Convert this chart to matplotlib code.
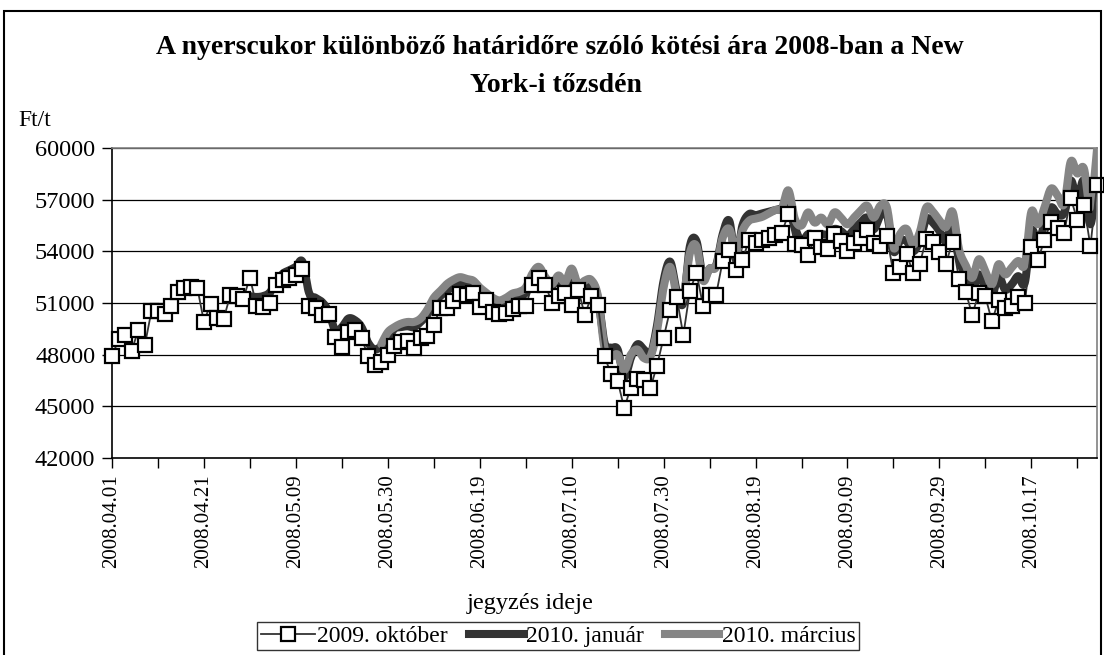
import numpy as np
import matplotlib
matplotlib.use("Agg")
import matplotlib.pyplot as plt
from matplotlib.lines import Line2D
from matplotlib.patches import Rectangle

plt.rcParams['font.family'] = ['Liberation Serif', 'DejaVu Serif']

tick_labels = ["2008.04.01", "2008.04.21", "2008.05.09", "2008.05.30", "2008.06.19",
               "2008.07.10", "2008.07.30", "2008.08.19", "2008.09.09", "2008.09.29",
               "2008.10.17"]

okt2009 = [47900, 48890, 49140, 48220, 49440, 48550, 50520, 50560, 50360, 50810,
           51640, 51870, 51910, 51870, 49910, 50950, 50120, 50070, 51440, 51400,
           51250, 52480, 50850, 50790, 51010, 52030, 52330, 52430, 52620, 52960,
           50850, 50690, 50300, 50360, 49040, 48450, 49320, 49440, 48980, 47900,
           47410, 47550, 48000, 48530, 48730, 48790, 48390, 48980, 49080, 49710,
           50710, 50710, 51090, 51540, 51440, 51580, 50790, 51150, 50500, 50360,
           50420, 50660, 50850, 50810, 52070, 52460, 52070, 50990, 51400, 51580,
           50910, 51780, 50300, 51400, 50910, 47900, 46880, 46490, 44890, 46090,
           46560, 46520, 46070, 47370, 48980, 50620, 51340, 49120, 51700, 52760,
           50850, 51440, 51480, 53450, 54100, 52920, 53510, 54630, 54490, 54650,
           54790, 54920, 55080, 56160, 54430, 54390, 53800, 54790, 54240, 54160,
           54980, 54590, 54040, 54490, 54790, 55220, 54490, 54290, 54880, 52720,
           53080, 53840, 52760, 53250, 54730, 54560, 53980, 53290, 54550, 52370,
           51640, 50320, 51580, 51380, 49930, 51150, 50710, 50850, 51340, 50990,
           54240, 53510, 54650, 55730, 55340, 55080, 57090, 55830, 56710, 54290,
           57830]

jan2010 = [None] * 20 + [
           51500, 51400, 51350, 51400, 51600, 52200, 52700, 52900, 53100, 53400,
           51600, 51300, 51050, 50500, 49400, 49600, 50100, 50000, 49600, 48700,
           48300, 48500, 48900, 49500, 49600, 49650, 49600, 49900, 50300, 51000,
           51400, 51700, 52000, 52200, 52100, 52050, 51700, 51400, 51000, 50900,
           51100, 51300, 51350, 51600, 52400, 52800, 52300, 52000, 52400, 52000,
           52800, 51900, 51700, 52200, 51300, 48700, 48400, 48300, 46700, 47800,
           48600, 48300, 48000, 49700, 52300, 53400, 51700, 51000, 54300, 54600,
           52500, 53000, 53200, 55000, 55770, 53600, 55500, 56160, 56100, 56200,
           56300, 56400, 56500, 56700, 55380, 54600, 55000, 54980, 55000, 54980,
           55300, 55180, 54900, 55300, 55670, 55960, 55280, 56060, 56160, 54000,
           54590, 54590, 54000, 54590, 55870, 55670, 55180, 54590, 55670, 53550,
           52560, 51700, 52660, 51870, 51380, 52560, 51780, 52070, 52560, 52170,
           55180, 54490, 55570, 56550, 56160, 56260, 58100, 57000, 58100, 55570,
           58600]

mar2010 = [None] * 41 + [
           48600, 49300, 49600, 49800, 49900, 49900, 50100, 50600, 51300,
           51700, 52100, 52350, 52500, 52400, 52300, 51900, 51600, 51300, 51150,
           51300, 51550, 51650, 51900, 52700, 53100, 52500, 52100, 52600, 52200,
           53000, 52050, 52300, 52330, 51400, 48400, 47900, 48000, 47100, 48000,
           48300, 47800, 47900, 49400, 51900, 53100, 51500, 51300, 53900, 54300,
           52300, 53000, 53100, 54800, 55300, 54000, 55200, 55770, 55900, 56000,
           56200, 56400, 56500, 57540, 55870, 55500, 56260, 55670, 55960, 55570,
           56260, 55960, 55570, 55960, 56350, 56650, 55960, 56650, 56550, 54200,
           55000, 55300, 54400, 55100, 56550, 56300, 55800, 55400, 56300, 54100,
           53200, 52460, 53540, 52850, 52070, 53250, 52660, 53050, 53440, 53250,
           56300, 55570, 56550, 57640, 57240, 56750, 59210, 58520, 58820, 56550,
           59900]


def smooth(xs, ys, n=12):
    xs = np.asarray(xs, float)
    ys = np.asarray(ys, float)
    px, py = [], []
    m = len(xs)
    for k in range(m - 1):
        x0, y0 = (xs[k - 1], ys[k - 1]) if k > 0 else (xs[k], ys[k])
        x1, y1 = xs[k], ys[k]
        x2, y2 = xs[k + 1], ys[k + 1]
        x3, y3 = (xs[k + 2], ys[k + 2]) if k + 2 < m else (x2, y2)
        t = np.linspace(0, 1, n, endpoint=False)
        t2, t3 = t * t, t * t * t
        def cr(p0, p1, p2, p3):
            return 0.5 * ((2 * p1) + (-p0 + p2) * t + (2 * p0 - 5 * p1 + 4 * p2 - p3) * t2
                          + (-p0 + 3 * p1 - 3 * p2 + p3) * t3)
        px.extend(cr(x0, x1, x2, x3))
        py.extend(cr(y0, y1, y2, y3))
    px.append(xs[-1]); py.append(ys[-1])
    return np.array(px), np.array(py)


def valid(series):
    idx = [i for i, v in enumerate(series) if v is not None]
    return idx, [series[i] for i in idx]


fig = plt.figure(figsize=(11.04, 6.55), dpi=100)
ax = fig.add_axes([112 / 1104, 1 - 458 / 655, (1097 - 112) / 1104, (458 - 148) / 655])

for y in range(45000, 60001, 3000):
    ax.axhline(y, color='black', lw=0.9, zorder=1)

jx, jy = valid(jan2010)
sx, sy = smooth(jx, jy)
ax.plot(sx, sy, color='#333333', lw=5.8, solid_capstyle='round', zorder=2)

mx, my = valid(mar2010)
sx, sy = smooth(mx, my)
ax.plot(sx, sy, color='#858585', lw=5.8, solid_capstyle='round', zorder=3)

ox = np.arange(len(okt2009))
ax.plot(ox, okt2009, color='#333333', lw=1.3, marker='s', markersize=9.5,
        markerfacecolor='white', markeredgecolor='black', markeredgewidth=1.6, zorder=4,
        clip_on=False)

ax.set_xlim(0, len(okt2009) - 1)
ax.set_ylim(42000, 60000)
ax.set_yticks(range(42000, 60001, 3000))
ax.set_yticklabels([str(v) for v in range(42000, 60001, 3000)], fontsize=17.5)

xt = list(range(0, len(okt2009), 7))
ax.set_xticks(xt)
labels = []
for i, t in enumerate(xt):
    labels.append(tick_labels[i // 2] if i % 2 == 0 and i // 2 < len(tick_labels) else "")
ax.set_xticklabels(labels, rotation=90, fontsize=15)
ax.tick_params(axis='both', direction='out', length=7, width=1, colors='black')
ax.tick_params(axis='y', pad=5)
ax.tick_params(axis='x', pad=5)

for s in ['left', 'bottom']:
    ax.spines[s].set_color('black')
    ax.spines[s].set_linewidth(1.2)
for s in ['top', 'right']:
    ax.spines[s].set_color('#808080')
    ax.spines[s].set_linewidth(1.2)

fig.text(560 / 1104, 1 - 47 / 655, "A nyerscukor különböző határidőre szóló kötési ára 2008-ban a New",
         ha='center', va='center', fontsize=20, fontweight='bold')
fig.text(556 / 1104, 1 - 85 / 655, "York-i tőzsdén", ha='center', va='center', fontsize=20,
         fontweight='bold')
fig.text(18 / 1104, 1 - 121 / 655, "Ft/t", ha='left', va='center', fontsize=17)
fig.text(530 / 1104, 1 - 604 / 655, "jegyzés ideje", ha='center', va='center', fontsize=17.5)

handles = [
    Line2D([], [], color='#333333', lw=1.3, marker='s', markersize=9.5,
           markerfacecolor='white', markeredgecolor='black', markeredgewidth=1.6),
    Line2D([], [], color='#333333', lw=5.8),
    Line2D([], [], color='#858585', lw=5.8),
]
leg = fig.legend(handles, ["2009. október", "2010. január", "2010. március"],
                 loc='center', bbox_to_anchor=(558 / 1104, 1 - 636 / 655), ncol=3,
                 fontsize=17, frameon=True, fancybox=False, edgecolor='black',
                 handlelength=2.3, handletextpad=0.1, columnspacing=0.9,
                 borderpad=0.15, borderaxespad=0)
leg.get_frame().set_linewidth(1.0)

fig.patches.append(Rectangle((4 / 1104, -0.02), (1101 - 4) / 1104, 1.02 - 11 / 655 + 0.0,
                             transform=fig.transFigure, fill=False, edgecolor='black',
                             lw=1.5))

fig.savefig("out.png", dpi=100)
